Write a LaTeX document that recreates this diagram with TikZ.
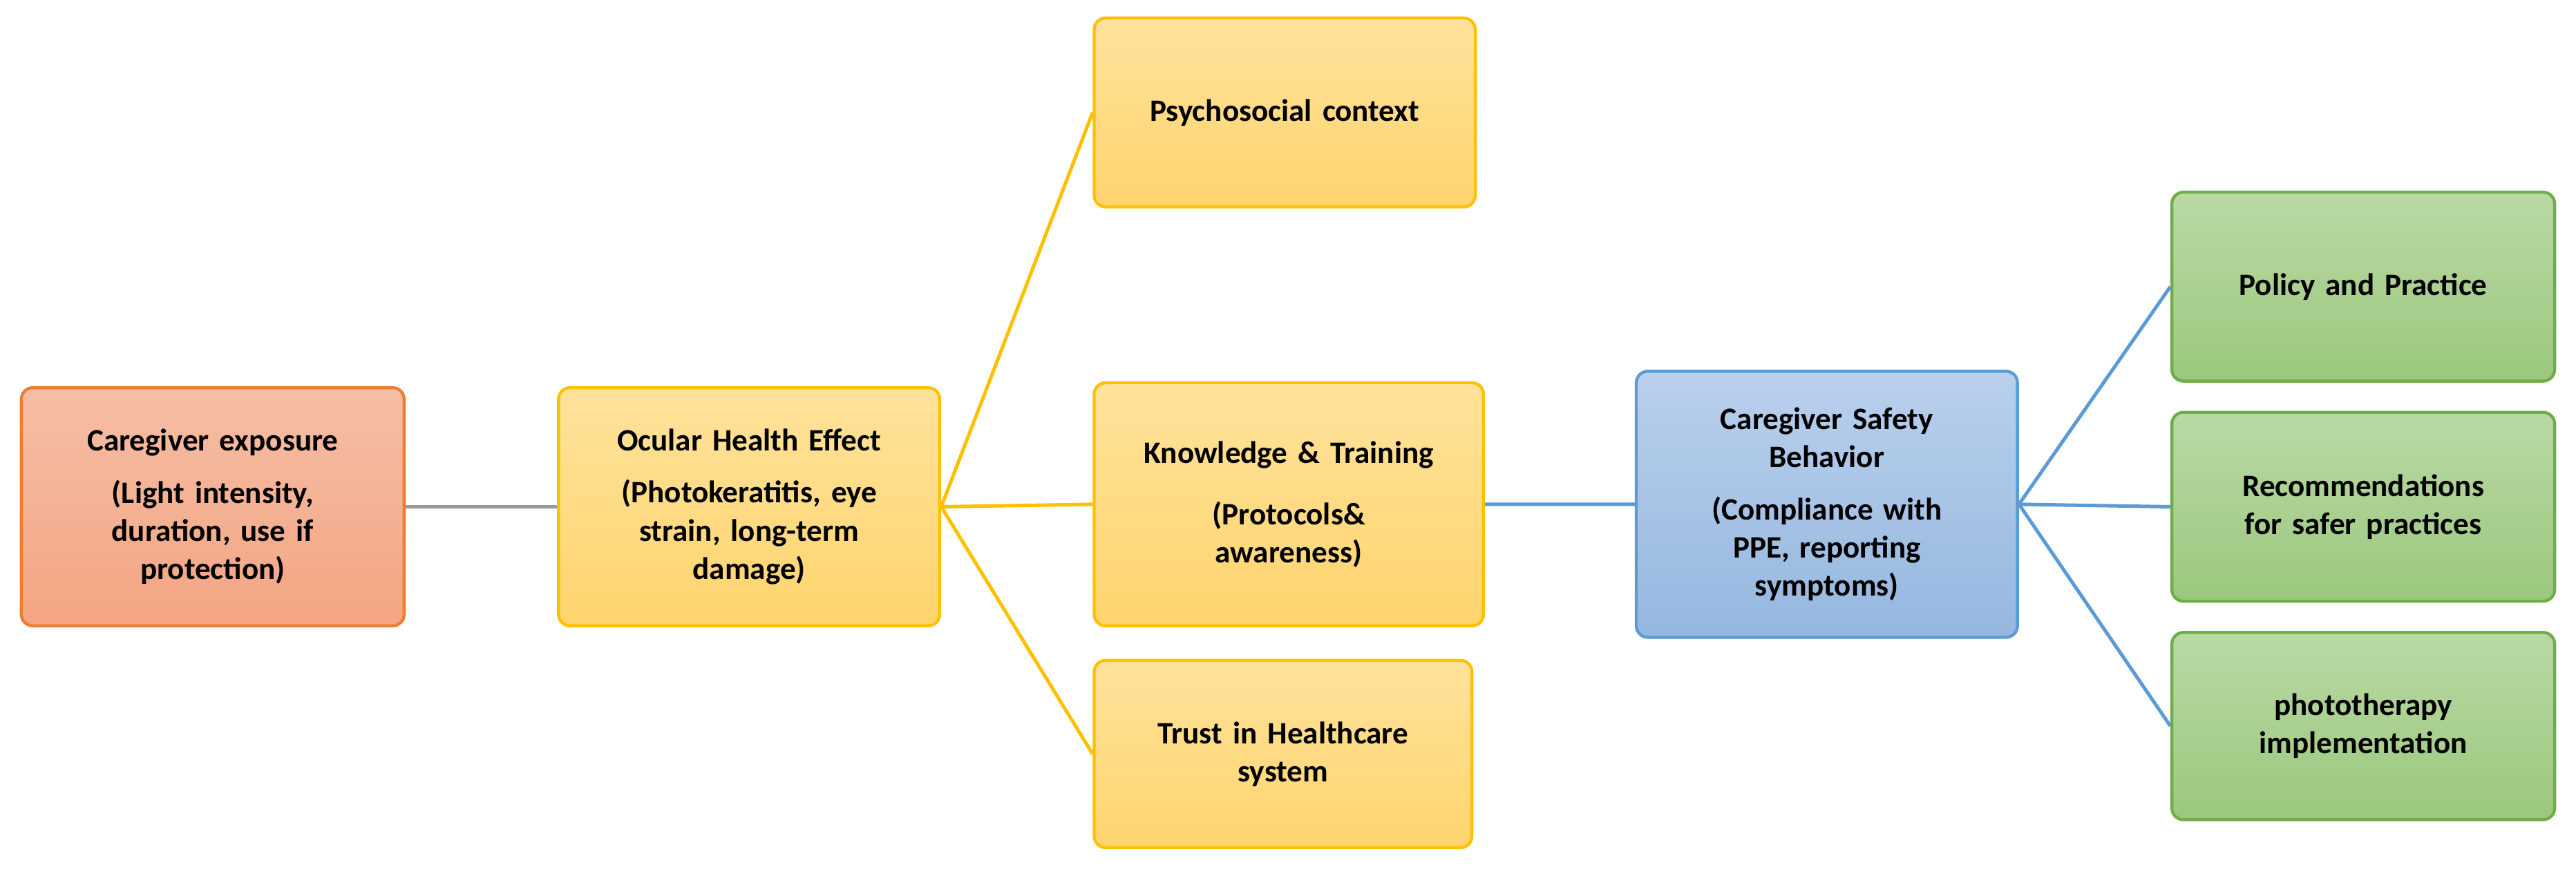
\documentclass[tikz,border=0pt]{standalone}
\usepackage{fontspec}
\setmainfont{Carlito}
\definecolor{rdB}{RGB}{237,125,49}\definecolor{rdT}{RGB}{245,190,165}\definecolor{rdM}{RGB}{244,165,130}
\definecolor{ylB}{RGB}{255,192,0}\definecolor{ylT}{RGB}{255,226,155}\definecolor{ylM}{RGB}{255,212,110}
\definecolor{blB}{RGB}{91,155,213}\definecolor{blT}{RGB}{186,208,236}\definecolor{blM}{RGB}{149,183,224}
\definecolor{gnB}{RGB}{112,173,71}\definecolor{gnT}{RGB}{186,217,165}\definecolor{gnM}{RGB}{155,200,125}
\begin{document}
\begin{tikzpicture}[x=0.025cm,y=-0.025cm,
 box/.style={draw,line width=1.3pt,rounded corners=5pt,align=center,font=\fontsize{13.5}{16.5}\selectfont\bfseries,inner sep=2pt},
 red/.style={box,draw=rdB,top color=rdT,bottom color=rdM},
 yel/.style={box,draw=ylB,top color=ylT,bottom color=ylM},
 blu/.style={box,draw=blB,top color=blT,bottom color=blM},
 grn/.style={box,draw=gnB,top color=gnT,bottom color=gnM},
 ln/.style={line width=1.5pt}]
\useasboundingbox (0,0) rectangle (1568,532);
\node[red,minimum width=233*0.025cm,minimum height=145*0.025cm,text width=210*0.025cm] (a) at (129.5,308.5) {Caregiver exposure\\[6pt](Light intensity,\\duration, use if\\protection)};
\node[yel,minimum width=232*0.025cm,minimum height=145*0.025cm,text width=215*0.025cm] (b) at (456,308.5) {Ocular Health Effect\\[6pt](Photokeratitis, eye\\strain, long-term\\damage)};
\node[yel,minimum width=232*0.025cm,minimum height=115*0.025cm,text width=215*0.025cm] (c) at (782,68.5) {Psychosocial context};
\node[yel,minimum width=237*0.025cm,minimum height=148*0.025cm,text width=215*0.025cm] (d) at (784.5,307) {Knowledge \& Training\\[10pt](Protocols\&\\awareness)};
\node[yel,minimum width=230*0.025cm,minimum height=114*0.025cm,text width=215*0.025cm] (e) at (781,459) {Trust in Healthcare\\system};
\node[blu,minimum width=232*0.025cm,minimum height=162*0.025cm,text width=215*0.025cm] (f) at (1112,307) {Caregiver Safety\\Behavior\\[6pt](Compliance with\\PPE, reporting\\symptoms)};
\node[grn,minimum width=233*0.025cm,minimum height=115*0.025cm,text width=215*0.025cm] (g) at (1438.5,174.5) {Policy and Practice};
\node[grn,minimum width=233*0.025cm,minimum height=115*0.025cm,text width=215*0.025cm] (h) at (1438.5,308.5) {Recommendations\\for safer practices};
\node[grn,minimum width=233*0.025cm,minimum height=114*0.025cm,text width=215*0.025cm] (i) at (1438.5,442) {phototherapy\\implementation};
\draw[ln,gray!80] (a.east) -- (b.west);
\draw[ln,ylB] (b.east) -- (c.west) (b.east) -- (d.west) (b.east) -- (e.west);
\draw[ln,blB] (d.east) -- (f.west) (f.east) -- (g.west) (f.east) -- (h.west) (f.east) -- (i.west);
\end{tikzpicture}
\end{document}
